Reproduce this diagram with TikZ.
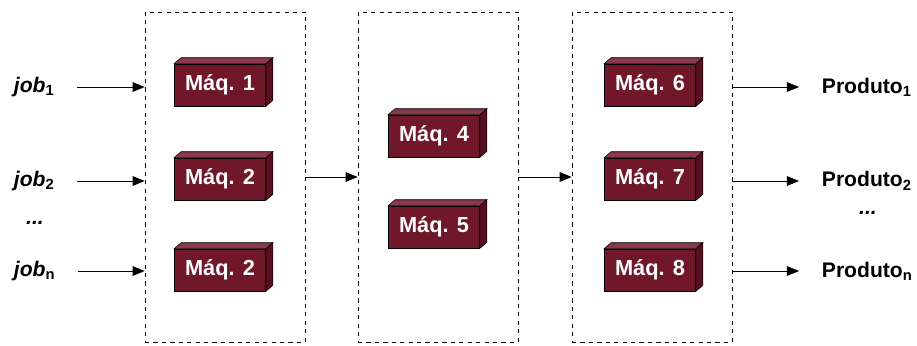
\documentclass[tikz,border=0pt]{standalone}
\usepackage{fontspec}
\setmainfont{Liberation Sans}
\usepackage{xcolor}
\usepackage{tikz}
\usetikzlibrary{arrows.meta, positioning}
\definecolor{machfront}{RGB}{112,24,42}
\definecolor{machtop}{RGB}{138,56,74}
\definecolor{machside}{RGB}{86,16,32}

\begin{document}
\begin{tikzpicture}[
    x=0.025cm, y=-0.025cm,
    stagebox/.style={draw, dashed, thin, minimum width=4cm, minimum height=8.25cm},
    machbox/.style={draw, thin, fill=machfront, text=white, font=\fontsize{15.5}{17}\selectfont\bfseries,
        minimum width=2.28cm, minimum height=1.05cm, inner sep=0pt},
    lbl/.style={font=\fontsize{15}{17}\selectfont\bfseries},
    flow/.style={-{Triangle[length=3mm,width=2.4mm]}, semithick}
]
    \useasboundingbox (0,0) rectangle (917,345);

    % Stages
    \node[stagebox] (stage1) at (225,177) {};
    \node[stagebox] (stage2) at (438,177) {};
    \node[stagebox] (stage3) at (652,177) {};

    % Machines
    \node[machbox] (m1) at (220,85) {Máq. 1};
    \node[machbox] (m2) at (220,179) {Máq. 2};
    \node[machbox] (m3) at (220,270) {Máq. 2};
    \node[machbox] (m4) at (434,136) {Máq. 4};
    \node[machbox] (m5) at (434,227) {Máq. 5};
    \node[machbox] (m6) at (650,85) {Máq. 6};
    \node[machbox] (m7) at (650,179) {Máq. 7};
    \node[machbox] (m8) at (650,270) {Máq. 8};

    % 3D faces
    \foreach \m in {m1,m2,m3,m4,m5,m6,m7,m8} {
        \filldraw[thin, fill=machtop] (\m.north west) -- ([shift={(7,-6)}]\m.north west)
            -- ([shift={(7,-6)}]\m.north east) -- (\m.north east) -- cycle;
        \filldraw[thin, fill=machside] (\m.north east) -- ([shift={(7,-6)}]\m.north east)
            -- ([shift={(7,-6)}]\m.south east) -- (\m.south east) -- cycle;
    }

    % Jobs
    \node[lbl, anchor=west] (job1) at (9,87) {{\itshape job}\textsubscript{1}};
    \node[lbl, anchor=west] (job2) at (9,181) {{\itshape job}\textsubscript{2}};
    \node[lbl, anchor=west] (jobn) at (9,271) {{\itshape job}\textsubscript{n}};
    \node[lbl, font=\fontsize{15}{17}\selectfont\bfseries\itshape] (jobdots) at (35,223) {...};

    \draw[flow, shorten <=0.45cm] (job1.east) -- (job1.east -| stage1.west);
    \draw[flow, shorten <=0.45cm] (job2.east) -- (job2.east -| stage1.west);
    \draw[flow, shorten <=0.45cm] (jobn.east) -- (jobn.east -| stage1.west);

    % Between stages
    \draw[flow] (stage1.east) -- (stage2.west);
    \draw[flow] (stage2.east) -- (stage3.west);

    % Products
    \node[lbl, anchor=west] (prod1) at (817,87) {Produto\textsubscript{1}};
    \node[lbl, anchor=west] (prod2) at (817,181) {Produto\textsubscript{2}};
    \node[lbl, anchor=west] (prodn) at (817,271) {Produto\textsubscript{n}};
    \node[lbl, font=\fontsize{15}{17}\selectfont\bfseries\itshape] (proddots) at (868,213) {...};

    \draw[flow, shorten >=0.45cm] (prod1.west -| stage3.east) -- (prod1.west);
    \draw[flow, shorten >=0.45cm] (prod2.west -| stage3.east) -- (prod2.west);
    \draw[flow, shorten >=0.45cm] (prodn.west -| stage3.east) -- (prodn.west);
\end{tikzpicture}
\end{document}
